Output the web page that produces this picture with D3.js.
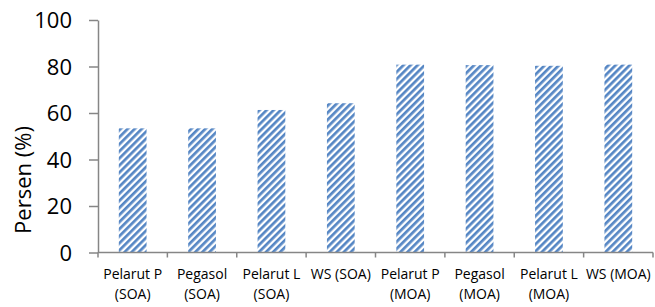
<!DOCTYPE html>
<html>
<head>
<meta charset="utf-8">
<script src="https://cdn.jsdelivr.net/npm/d3@7"></script>
<style>
	body { margin: 0; background: #fff; }
	svg { display: block; font-family: "Open Sans", sans-serif; }
</style>
</head>
<body>
<svg class="chart"></svg>
<script>
// categories (line 1 / line 2 of each label) and values
var labelTop = ["Pelarut P", "Pegasol", "Pelarut L", "WS (SOA)", "Pelarut P", "Pegasol", "Pelarut L", "WS (MOA)"];
var labelBottom = ["(SOA)", "(SOA)", "(SOA)", "", "(MOA)", "(MOA)", "(MOA)", ""];
var values = [53.4, 53.4, 61.3, 64.2, 80.8, 80.6, 80.3, 80.8];
var yTicks = [0, 20, 40, 60, 80, 100];

var width = 655,
	height = 307;
var margin = { top: 20, right: 2, bottom: 54.5, left: 98 };

var svg = d3.select(".chart").attr("width", width).attr("height", height);

// hatch pattern
var defs = svg.append("defs");
var pat = defs
	.append("pattern")
	.attr("id", "hatch")
	.attr("patternUnits", "userSpaceOnUse")
	.attr("width", 5)
	.attr("height", 10)
	.attr("patternTransform", "rotate(45)");
pat.append("rect").attr("width", 5).attr("height", 10).attr("fill", "#ffffff");
pat.append("rect").attr("width", 2.7).attr("height", 10).attr("fill", "#5586c4");

var idx = d3.range(values.length);

var x = d3
	.scaleBand()
	.domain(idx)
	.range([margin.left, width - margin.right])
	.paddingInner(0.6)
	.paddingOuter(0.3);

var y = d3
	.scaleLinear()
	.domain([0, 100])
	.range([height - margin.bottom, margin.top]);

// bars
svg
	.append("g")
	.selectAll("rect")
	.data(idx)
	.join("rect")
	.attr("x", (i) => x(i))
	.attr("y", (i) => y(values[i]))
	.attr("width", x.bandwidth())
	.attr("height", (i) => y(0) - y(values[i]))
	.attr("fill", "url(#hatch)");

// y axis
var yAxis = svg
	.append("g")
	.attr("transform", `translate(${margin.left},0)`)
	.call(d3.axisLeft(y).tickValues(yTicks).tickSize(9).tickPadding(17).tickSizeOuter(0));
yAxis.select(".domain").attr("stroke", "#868686").attr("stroke-width", 1.5);
yAxis.selectAll(".tick line").attr("stroke", "#868686").attr("stroke-width", 1.5);
yAxis
	.selectAll(".tick text")
	.attr("font-size", 22)
	.attr("font-family", "Open Sans")
	.attr("fill", "#000")
	.attr("dy", "0.36em");

// x axis: line plus ticks at category boundaries
var bounds = d3.range(values.length + 1).map((i) => margin.left + i * (width - margin.right - margin.left) / values.length);
var xg = svg.append("g");
xg.append("line")
	.attr("x1", margin.left)
	.attr("x2", width - margin.right)
	.attr("y1", y(0))
	.attr("y2", y(0))
	.attr("stroke", "#868686")
	.attr("stroke-width", 1.5);
xg.selectAll(".bt")
	.data(bounds)
	.join("line")
	.attr("class", "bt")
	.attr("x1", (d) => d)
	.attr("x2", (d) => d)
	.attr("y1", y(0))
	.attr("y2", y(0) + 5)
	.attr("stroke", "#868686")
	.attr("stroke-width", 1.5);

var lab = xg
	.selectAll(".lab")
	.data(idx)
	.join("text")
	.attr("class", "lab")
	.attr("text-anchor", "middle")
	.attr("font-size", 14)
	.attr("fill", "#000");
lab.append("tspan")
	.attr("x", (i) => x(i) + x.bandwidth() / 2)
	.attr("y", 279)
	.text((i) => labelTop[i]);
lab.append("tspan")
	.attr("x", (i) => x(i) + x.bandwidth() / 2)
	.attr("y", 299)
	.text((i) => labelBottom[i]);

// y label
svg
	.append("text")
	.attr("text-anchor", "middle")
	.attr("transform", `translate(31,180) rotate(-90)`)
	.attr("font-size", 22)
	.attr("fill", "#000")
	.text("Persen (%)");
</script>
</body>
</html>
